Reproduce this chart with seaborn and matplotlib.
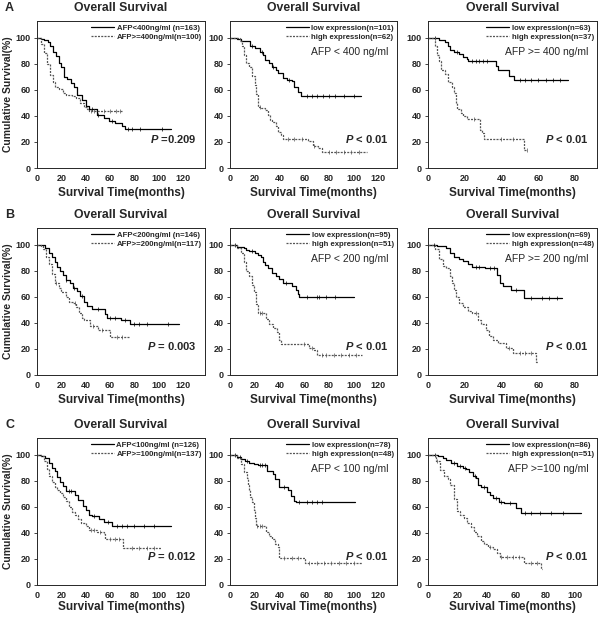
import numpy as np
import pandas as pd
import matplotlib
matplotlib.use("Agg")
import matplotlib.pyplot as plt
import seaborn as sns

# ---------------- row A (AFP cut-off 400) ----------------
a1_low_t = [0, 3, 5.5, 9, 11, 13.5, 15.5, 18, 20, 22.5, 25, 28, 30.5, 33, 37, 40, 42.5, 49, 55, 59, 64, 70, 72, 110]
a1_low_s = [100, 99, 98.5, 96.5, 93.5, 89.5, 86, 81, 77.5, 70, 68.5, 65, 62, 56, 52.5, 48, 45, 41, 38.5, 36, 34.5, 32.5, 30, 30]
a1_low_c = [45, 50, 62, 75, 78, 85, 103]
a1_high_t = [0, 3, 5.5, 8, 10.5, 13, 15, 18, 21, 23.5, 29, 32, 35, 39, 41, 42.5, 71]
a1_high_s = [100, 95, 88.5, 80, 71.5, 66, 62.5, 61, 58, 56.5, 55.5, 53.5, 50, 47, 45, 43.5, 43.5]
a1_high_c = [44, 47, 55, 60, 65, 68]

a2_low_t = [0, 2, 5.5, 9, 13, 16.5, 20, 24, 27, 28, 31.5, 34, 37, 39, 43, 46, 50, 52, 55, 57, 106]
a2_low_s = [100, 100, 99, 98, 97.5, 94, 92, 89.5, 87, 83, 80.5, 78, 75, 73, 69, 68, 67, 62, 58.5, 55.5, 55.5]
a2_low_c = [18, 26, 35, 48, 62, 66, 70, 75, 80, 85, 92, 100]
a2_high_t = [0, 3, 8, 10, 11, 13, 15.5, 18, 20, 21, 22.5, 25, 28, 30.5, 32, 34, 37, 39, 41, 42.5, 63, 67, 71, 74, 111]
a2_high_s = [100, 100, 98, 94, 87, 81, 78, 70.5, 64, 57, 47, 46, 44.5, 41, 37, 35, 32, 28, 25, 22, 20.5, 17, 15, 12, 12]
a2_high_c = [24, 47, 52, 58, 68, 80, 86, 92, 98, 104]

a3_low_t = [0, 3, 6, 9, 11, 12, 14, 17, 19, 21, 22, 37, 38, 44, 47, 76]
a3_low_s = [100, 100, 98.5, 97, 94, 91, 89, 87.5, 85, 84, 82.5, 78.5, 75, 71, 67.5, 67.5]
a3_low_c = [4, 16, 24, 26, 28, 30, 32, 50, 53, 56, 60, 64, 68, 72]
a3_high_t = [0, 2, 4, 5, 6, 7, 9, 11, 13, 14, 15, 16, 18, 19, 21, 28.5, 29.5, 30.5, 52, 54]
a3_high_s = [100, 100, 94, 87, 82, 75, 72.5, 66, 62, 57.5, 50, 45.5, 42, 40, 37.5, 29.5, 27, 22, 13.5, 13.5]
a3_high_c = [25, 40, 46, 54]

# ---------------- row B (AFP cut-off 200) ----------------
b1_low_t = [0, 3, 6.5, 10, 12, 14.5, 16.5, 19, 21, 23.5, 27, 29.5, 33, 35.5, 39, 41, 45, 55.5, 57.5, 69, 76, 117]
b1_low_s = [100, 100, 98, 94, 90.5, 87, 83, 80, 76.5, 73, 70.5, 66.5, 64.5, 61, 56.5, 53, 50.5, 47, 44, 42, 39.5, 39.5]
b1_low_c = [24, 30, 37, 50, 60, 64, 72, 80, 84, 90, 108]
b1_high_t = [0, 3, 5, 7.5, 10, 12, 14.5, 18, 20, 23.5, 26, 29.5, 32, 34.5, 37, 39, 43.5, 50, 60, 76]
b1_high_s = [100, 99, 97, 91, 85, 77.5, 71, 67, 63.5, 60, 56.5, 55.5, 52, 47.5, 44, 42, 38, 34.5, 29.5, 29.5]
b1_high_c = [16, 31, 46, 53, 66, 70]

b2_low_t = [0, 2.5, 6, 11, 13, 15.5, 20, 22.5, 25, 26.5, 28, 30.5, 34, 37, 40, 43, 50.5, 53, 55, 56, 100]
b2_low_s = [100, 100, 98.5, 97.5, 96, 95, 94, 92, 91, 87, 84.5, 82, 78.5, 76, 73.5, 71, 68.5, 65, 62, 60, 60]
b2_low_c = [4, 18, 45, 62, 70, 72, 78, 85]
b2_high_t = [0, 2.5, 6, 8.5, 11, 13, 15.5, 18, 19, 21, 22.5, 29, 31.5, 35, 38, 40, 41, 64, 68, 70, 107]
b2_high_s = [100, 100, 98, 94, 87, 80, 76, 69, 63.5, 54.5, 47.5, 43, 39.5, 36.5, 33, 27, 24, 21, 19, 15.5, 15.5]
b2_high_c = [24, 26, 60, 66, 74, 78, 84, 90, 96, 102]

b3_low_t = [0, 2, 5, 10, 12, 14, 17, 19, 22, 24, 31, 37.5, 39, 41, 45, 52, 73]
b3_low_s = [100, 100, 99, 97.5, 94, 91, 89.5, 88, 85.5, 83, 82, 77, 71, 68.5, 65, 59.5, 59.5]
b3_low_c = [3, 26, 28, 34, 36, 48, 56, 62, 66, 70]
b3_high_t = [0, 2, 4, 6, 8, 10, 12, 13, 14, 15, 17, 19, 22, 24, 27, 29, 31.5, 33, 35.5, 38, 42.5, 46, 59, 60]
b3_high_s = [100, 100, 97, 89, 84, 82, 76, 70.5, 65, 60, 55.5, 52, 49.5, 47.5, 42.5, 39.5, 34.5, 30, 27, 24.5, 21, 17, 10, 10]
b3_high_c = [26, 44, 50, 53, 56]

# ---------------- row C (AFP cut-off 100) ----------------
c1_low_t = [0, 3, 6.5, 10, 12, 14.5, 16.5, 19, 21, 23.5, 31, 34, 38, 40, 42.5, 45, 51, 55, 62, 110]
c1_low_s = [100, 99.5, 97.5, 94, 90, 88, 83, 79, 76, 72.5, 69, 65.5, 61, 57.5, 54, 53, 50.5, 48.5, 45.5, 45.5]
c1_low_c = [26, 28, 47, 58, 66, 70, 74, 80, 88, 96]
c1_high_t = [0, 3, 5.5, 8, 10, 12, 14.5, 16.5, 19, 21, 23.5, 26, 28.5, 31, 33.5, 36.5, 40, 42.5, 49, 55, 56, 71, 102]
c1_high_s = [100, 99, 95.5, 89.5, 83.5, 79, 75, 73, 70.5, 68, 64.5, 60, 56.5, 54, 50.5, 48, 45, 42.5, 41, 39, 35, 28.5, 28.5]
c1_high_c = [44, 47, 52, 60, 64, 67, 78, 84, 90, 96]

c2_low_t = [0, 2, 5.5, 9, 12, 15.5, 19, 22.5, 30, 35, 36, 40, 47, 49.5, 52, 53.5, 101]
c2_low_s = [100, 100, 98.5, 96.5, 95, 94, 93, 92, 88, 85.5, 81.5, 75.5, 73, 68.5, 64.5, 63.5, 63.5]
c2_low_c = [4, 8, 14, 24, 26, 28, 44, 56, 62, 66, 70, 74]
c2_high_t = [0, 2, 5.5, 9, 11, 13.5, 14.5, 15.5, 16.5, 18, 19, 20, 21, 29, 31.5, 34, 36.5, 39, 40, 61, 107]
c2_high_s = [100, 100, 97.5, 93, 87, 82, 77, 73, 68, 63.5, 58, 51.5, 45.5, 41, 37.5, 35, 31.5, 29, 20.5, 17, 17]
c2_high_c = [22, 24, 26, 44, 50, 55, 64, 70, 76, 82, 88, 94, 100]

c3_low_t = [0, 3, 6.5, 10, 12.5, 15.5, 20, 23.5, 26, 28, 30.5, 33, 34, 36, 40, 42, 44.5, 48, 52, 60, 63.5, 104]
c3_low_s = [100, 100, 99, 98, 96, 93.5, 91.5, 90, 89, 86.5, 84, 82, 77, 75, 71.5, 69, 66.5, 64, 63, 59.5, 55.5, 55.5]
c3_low_c = [5, 18, 22, 25, 32, 38, 46, 50, 56, 66, 70, 76, 84, 92]
c3_high_t = [0, 3, 5.5, 8, 11, 13.5, 15, 18, 20, 22, 24.5, 26.5, 29, 31.5, 33.5, 36, 38, 40.5, 44, 47, 49, 65, 77, 77.5]
c3_high_s = [100, 100, 95.5, 88.5, 84, 81.5, 77, 66, 57, 53.5, 51.5, 48, 44.5, 40.5, 37.5, 34, 31.5, 29, 28, 24.5, 21.5, 17, 12, 12]
c3_high_c = [6, 42, 50, 54, 58, 62, 70, 74]

# labels
row_letters = ["A", "B", "C"]
afp_low_labels = ["AFP<400ng/ml (n=163)", "AFP<200ng/ml (n=146)", "AFP<100ng/ml (n=126)"]
afp_high_labels = ["AFP>=400ng/ml(n=100)", "AFP>=200ng/ml(n=117)", "AFP>=100ng/ml(n=137)"]
n_low = [[101, 63], [95, 69], [78, 86]]
n_high = [[62, 37], [51, 48], [48, 51]]
subset_labels = [["AFP < 400 ng/ml", "AFP >= 400 ng/ml"],
                 ["AFP < 200 ng/ml", "AFP >= 200 ng/ml"],
                 ["AFP < 100 ng/ml", "AFP >=100 ng/ml"]]
p_texts = [["=0.209", "< 0.01", "< 0.01"],
           ["= 0.003", "< 0.01", "< 0.01"],
           ["= 0.012", "< 0.01", "< 0.01"]]

curves = [
    [(a1_low_t, a1_low_s, a1_low_c, a1_high_t, a1_high_s, a1_high_c),
     (a2_low_t, a2_low_s, a2_low_c, a2_high_t, a2_high_s, a2_high_c),
     (a3_low_t, a3_low_s, a3_low_c, a3_high_t, a3_high_s, a3_high_c)],
    [(b1_low_t, b1_low_s, b1_low_c, b1_high_t, b1_high_s, b1_high_c),
     (b2_low_t, b2_low_s, b2_low_c, b2_high_t, b2_high_s, b2_high_c),
     (b3_low_t, b3_low_s, b3_low_c, b3_high_t, b3_high_s, b3_high_c)],
    [(c1_low_t, c1_low_s, c1_low_c, c1_high_t, c1_high_s, c1_high_c),
     (c2_low_t, c2_low_s, c2_low_c, c2_high_t, c2_high_s, c2_high_c),
     (c3_low_t, c3_low_s, c3_low_c, c3_high_t, c3_high_s, c3_high_c)],
]

# ==========================
# style
# ==========================
sns.set_style("ticks")
plt.rcParams["font.family"] = ["Liberation Sans", "DejaVu Sans"]
plt.rcParams["mathtext.fontset"] = "custom"
plt.rcParams["mathtext.it"] = "Liberation Sans:italic:bold"
plt.rcParams["mathtext.rm"] = "Liberation Sans:bold"

W, H = 600, 617
fig = plt.figure(figsize=(W / 100, H / 100), dpi=100)

col_px = [(37, 205), (230, 397), (428, 597)]
row_px = [(21, 168), (228, 375), (438, 585)]
xlabel_pad = [3, 3, 0.5]
xmax = [[138, 135, 92], [138, 135, 92], [138, 135, 115]]
xticks = [[range(0, 121, 20), range(0, 121, 20), range(0, 81, 20)],
          [range(0, 121, 20), range(0, 121, 20), range(0, 81, 20)],
          [range(0, 121, 20), range(0, 121, 20), range(0, 101, 20)]]

LOW_COL = "black"
HIGH_COL = "#555555"


def draw_curve(ax, t, s, cens, label, high):
    df = pd.DataFrame({"time": t, "surv": s})
    color = HIGH_COL if high else LOW_COL
    ls = (0, (1.6, 1.0)) if high else "-"
    sns.lineplot(data=df, x="time", y="surv", ax=ax, drawstyle="steps-post",
                 estimator=None, sort=False, color=color, linewidth=0.9,
                 linestyle=ls, label=label)
    idx = np.searchsorted(t, cens, side="right") - 1
    ax.plot(cens, np.asarray(s)[idx], ls="none", marker="|", ms=2.5, mew=0.5,
            color=color)


for r in range(3):
    y0, y1 = row_px[r]
    for c in range(3):
        x0, x1 = col_px[c]
        ax = fig.add_axes([x0 / W, 1 - y1 / H, (x1 - x0) / W, (y1 - y0) / H])
        lt, ls_, lc, ht, hs, hc = curves[r][c]
        if c == 0:
            lab_lo, lab_hi = afp_low_labels[r], afp_high_labels[r]
        else:
            lab_lo = f"low expression(n={n_low[r][c - 1]})"
            lab_hi = f"high expression(n={n_high[r][c - 1]})"
        draw_curve(ax, lt, ls_, lc, lab_lo, False)
        draw_curve(ax, ht, hs, hc, lab_hi, True)

        ax.set_xlim(0, xmax[r][c])
        ax.set_ylim(0, 113)
        ax.set_xticks(list(xticks[r][c]))
        ax.set_yticks(range(0, 101, 20))
        ax.tick_params(axis="both", labelsize=6.5, width=0.6, pad=2)
        ax.tick_params(axis="y", length=2.5)
        ax.tick_params(axis="x", length=0, pad=4.5)
        for lbl in ax.get_xticklabels() + ax.get_yticklabels():
            lbl.set_fontweight("bold")
        for sp in ax.spines.values():
            sp.set_linewidth(0.7)
            sp.set_visible(True)

        ax.set_title("Overall Survival", fontsize=8.8, fontweight="bold", pad=7)
        ax.set_xlabel("Survival Time(months)", fontsize=8.5, fontweight="bold",
                      labelpad=xlabel_pad[r])
        if c == 0:
            ax.set_ylabel("Cumulative Survival(%)", fontsize=7.5, fontweight="bold", labelpad=2)
        else:
            ax.set_ylabel("")
            ax.text(0.95, 0.79, subset_labels[r][c - 1], transform=ax.transAxes,
                    ha="right", va="center", fontsize=7.5)

        ax.legend(loc="upper right", frameon=False, prop={"size": 5.6, "weight": "bold"},
                  handlelength=3.0, handletextpad=0.3, labelspacing=0.25,
                  borderaxespad=0.2, borderpad=0.2)

        ax.text(0.95, 0.2, r"$P$ " + p_texts[r][c], transform=ax.transAxes,
                ha="right", va="center", fontsize=8, fontweight="bold")

    fig.text(5 / W, 1 - (row_px[r][0] - 13) / H, row_letters[r], fontsize=9,
             fontweight="bold", va="center", ha="left")

fig.savefig("out.png", dpi=100)
